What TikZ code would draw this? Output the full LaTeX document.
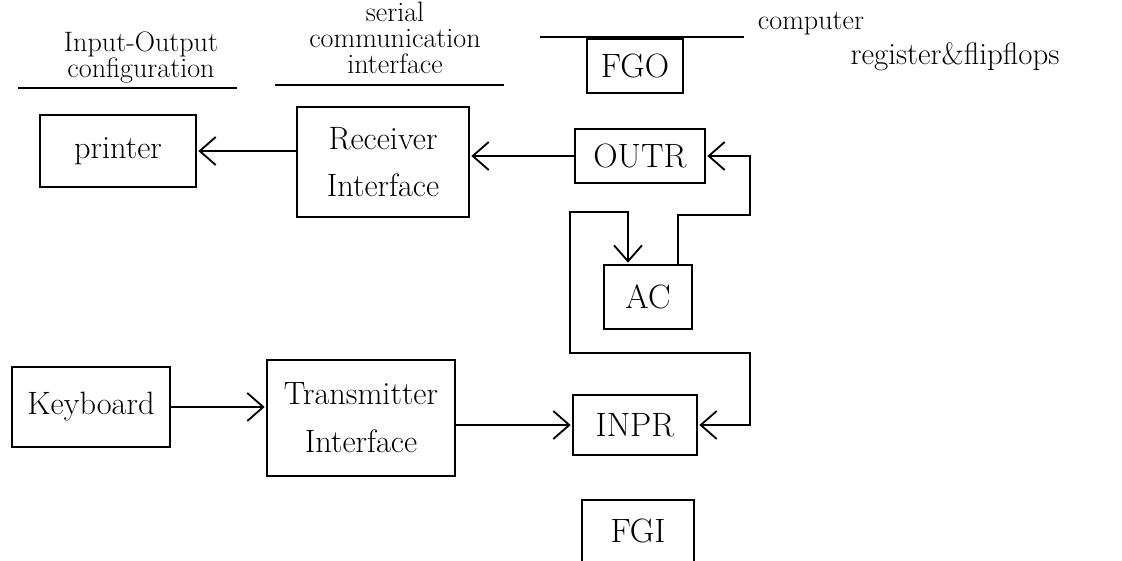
\documentclass[tikz,border=0pt]{standalone}
\usepackage{tikz}
\usetikzlibrary{positioning,arrows.meta,calc}
\tikzset{
  unitbox/.style={draw,line width=1.3pt,inner sep=2pt,align=center,font=\fontsize{23}{34}\selectfont},
  regbox/.style={unitbox,minimum width=2.4cm,minimum height=1.35cm,font=\fontsize{24}{28}\selectfont},
  heading/.style={align=center,font=\fontsize{20}{18.5}\selectfont},
  every edge/.style={draw,->,>={Straight Barb[length=4mm,width=7mm]},shorten >=1pt,line width=1.3pt},
}
\begin{document}
\begin{tikzpicture}[x=0.025cm,y=-0.025cm,>={Straight Barb[length=4mm,width=7mm]},shorten >=1pt]

\useasboundingbox (0,0) rectangle (1122,560);

\node[heading] (iohead) at (141,58) {Input-Output\\configuration};
\node[heading] (serhead) at (395,38) {serial\\communication\\interface};
\node[heading] (comphead) at (811,24) {computer};
\node[heading,font=\fontsize{22}{24}\selectfont] (reghead) at (955,57) {register\&flipflops};

\draw[line width=1pt] (18,88) -- (238,88);
\draw[line width=1pt] (275,85) -- (505,85);
\draw[line width=1pt] (540,37) -- (745,37);

\node[unitbox,minimum width=3.9cm,minimum height=1.8cm] (printer) at (118,151) {printer};
\node[unitbox,minimum width=4.3cm,minimum height=2.75cm] (receiver) at (383,162) {Receiver\\Interface};
\node[regbox] (fgo) at (635,66) {FGO};
\node[regbox,minimum width=3.25cm] (outr) at (640,156) {OUTR};
\node[regbox,minimum width=2.2cm,minimum height=1.6cm] (ac) at (648,297) {AC};

\node[unitbox,minimum width=3.95cm,minimum height=2cm] (keyboard) at (91,407) {Keyboard};
\node[unitbox,minimum width=4.7cm,minimum height=2.9cm] (transmitter) at (361,418) {Transmitter\\Interface};
\node[regbox,minimum width=3.1cm,minimum height=1.5cm] (inpr) at (635,425) {INPR};
\node[regbox,minimum width=2.8cm,minimum height=1.55cm] (fgi) at (638,531) {FGI};

\coordinate (outloop) at (750,215);
\coordinate (inloop) at (570,212);
\coordinate (inbend) at (750,353);

\path
(outr.west) edge (receiver.east |- outr.west)
(receiver.west |- printer.east) edge (printer.east)
(keyboard.east) edge (transmitter.west |- keyboard.east)
(transmitter.east |- inpr.west) edge (inpr.west);

\draw[->,line width=1.3pt] ([xshift=0.75cm]ac.north) |- (outloop) |- (outr.east);
\draw[<->,line width=1.3pt,shorten <=1pt] ([xshift=-0.5cm]ac.north) |- (inloop) |- (inbend) |- (inpr.east);

\end{tikzpicture}
\end{document}
